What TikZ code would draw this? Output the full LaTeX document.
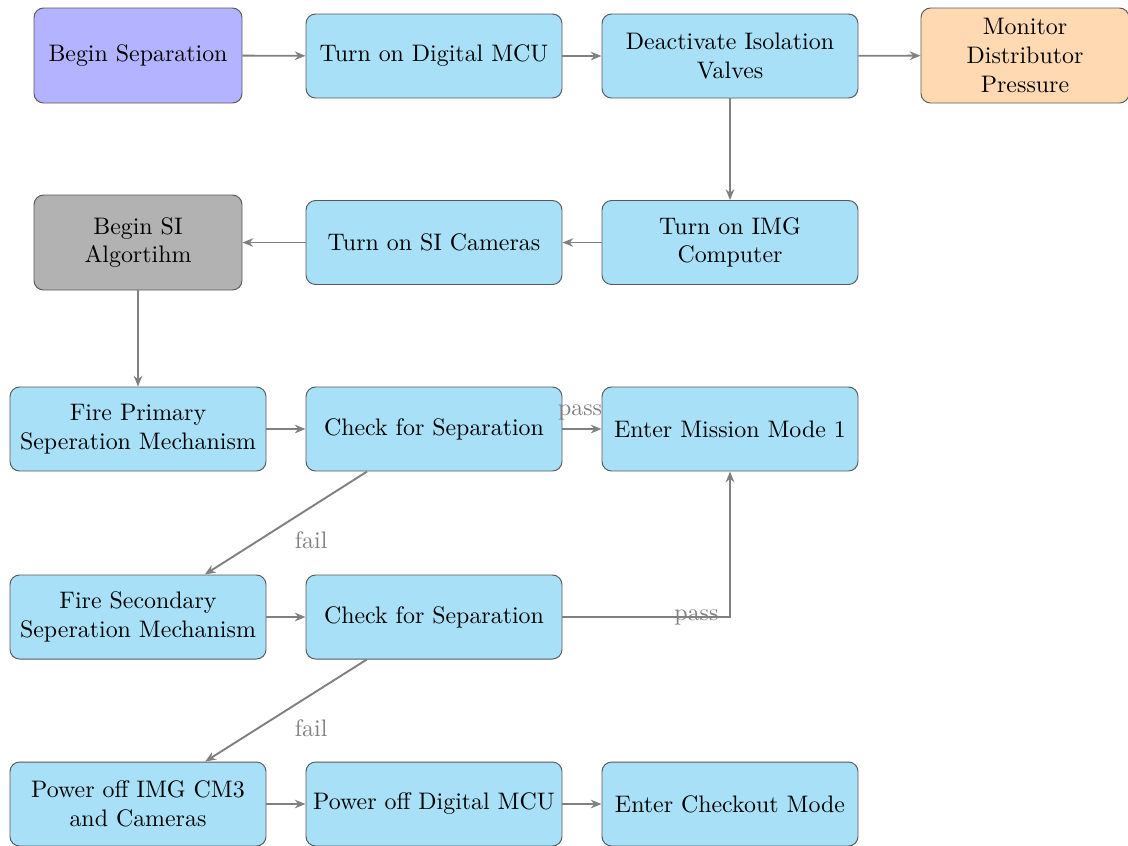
\documentclass[tikz,border=0pt]{standalone}
\usetikzlibrary{arrows.meta}
\definecolor{procblue}{RGB}{168,224,248}
\definecolor{startpurple}{RGB}{179,179,255}
\definecolor{sigray}{RGB}{178,178,178}
\definecolor{monorange}{RGB}{255,217,178}
\definecolor{linkgray}{RGB}{128,128,128}
\begin{document}
\begin{tikzpicture}[x=0.014706cm, y=-0.014706cm,
  box/.style={draw=black!65, rounded corners=4pt, align=center, inner sep=2pt},
  proc/.style={box, fill=procblue, minimum width=256*0.014706cm, minimum height=84*0.014706cm},
  wide/.style={box, minimum width=208*0.014706cm, minimum height=95*0.014706cm},
  link/.style={draw=linkgray, line width=0.8pt, -{Stealth[length=4.5pt,width=3.6pt]}},
  lbl/.style={text=linkgray}]
\useasboundingbox (0,0) rectangle (1128,845);

% row 1
\node[wide, fill=startpurple] (start) at (138,55.5) {Begin Separation};
\node[proc] (mcu) at (434,56) {Turn on Digital MCU};
\node[proc] (valves) at (730,56) {Deactivate Isolation\\Valves};
\node[wide, fill=monorange] (monitor) at (1025,55.5) {Monitor\\Distributor\\Pressure};

% row 2
\node[wide, fill=sigray] (sialg) at (138,242.5) {Begin SI\\Algortihm};
\node[proc] (sicam) at (434,242.5) {Turn on SI Cameras};
\node[proc] (img) at (730,242.5) {Turn on IMG\\Computer};

% row 3
\node[proc] (fire1) at (138,429) {Fire Primary\\Seperation Mechanism};
\node[proc] (check1) at (434,429) {Check for Separation};
\node[proc] (mission) at (730,429) {Enter Mission Mode 1};

% row 4
\node[proc] (fire2) at (138,617) {Fire Secondary\\Seperation Mechanism};
\node[proc] (check2) at (434,617) {Check for Separation};

% row 5
\node[proc] (pwrimg) at (138,804) {Power off IMG CM3\\and Cameras};
\node[proc] (pwrmcu) at (434,804) {Power off Digital MCU};
\node[proc] (checkout) at (730,804) {Enter Checkout Mode};

% connectors
\draw[link] (start) -- (mcu);
\draw[link] (mcu) -- (valves);
\draw[link] (valves) -- (monitor);
\draw[link] (valves) -- (img);
\draw[link] (img) -- (sicam);
\draw[link] (sicam) -- (sialg);
\draw[link] (sialg) -- (sialg |- fire1.north);
\draw[link] (fire1) -- (check1);
\draw[link] (check1) -- node[lbl, above, pos=0.45] {pass} (mission);
\draw[link] (check1) -- node[lbl, below right, pos=0.5] {fail} (fire2);
\draw[link] (fire2) -- (check2);
\draw[link] (check2) -| node[lbl, pos=0.4] {pass} (mission);
\draw[link] (check2) -- node[lbl, below right, pos=0.5] {fail} (pwrimg);
\draw[link] (pwrimg) -- (pwrmcu);
\draw[link] (pwrmcu) -- (checkout);
\end{tikzpicture}
\end{document}
